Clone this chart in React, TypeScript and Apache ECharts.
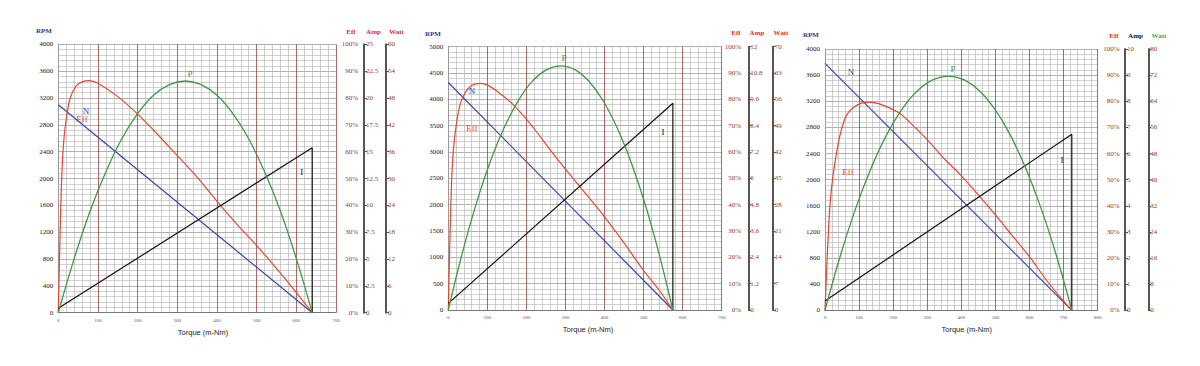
import React, { useEffect, useRef } from "react";
import * as echarts from "echarts";

// ---------- DATA ----------
// Panel 1 (torque m-Nm vs RPM / Eff % / Amp / Watt)
const n1 = [[0, 3100], [640, 0]];
const i1 = [[0, 0.41], [640, 15.37], [640, 0]];
const p1 = [[0, 0], [40, 12.1], [80, 22.7], [120, 31.5], [160, 38.9], [200, 44.5], [240, 48.6], [280, 51.0], [320, 51.8], [360, 51.0], [400, 48.6], [440, 44.5], [480, 38.9], [520, 31.5], [560, 22.7], [600, 12.1], [640, 0]];
const eff1 = [[0, 0], [3, 20], [6, 38], [10, 55], [15, 66], [22, 74], [30, 80], [45, 84.5], [60, 86], [78, 86.5], [100, 85.5], [150, 80.5], [200, 74], [250, 66.5], [300, 58.5], [350, 50.5], [400, 41.5], [450, 33], [500, 25], [550, 16.5], [600, 7.5], [640, 0]];

// Panel 2
const n2 = [[0, 4320], [575, 0]];
const i2 = [[0, 0.3], [575, 9.42], [575, 0]];
const p2 = [[0, 0], [36, 15.2], [72, 28.4], [108, 39.6], [144, 48.7], [180, 55.8], [216, 60.9], [252, 63.9], [288, 64.9], [324, 63.9], [360, 60.8], [396, 55.7], [432, 48.5], [468, 39.3], [504, 28.1], [540, 14.8], [575, 0]];
const eff2 = [[0, 0], [3, 20], [6, 37], [10, 54], [17, 66.5], [30, 78], [45, 83], [60, 85.3], [81, 86.1], [100, 85.5], [130, 82.5], [166, 78], [200, 72.5], [226, 67.7], [260, 61], [300, 53.5], [350, 44.5], [400, 35.4], [450, 25.5], [500, 15], [540, 7.5], [575, 0]];

// Panel 3
const n3 = [[0, 3780], [724, 0]];
const i3 = [[0, 0.36], [724, 6.74], [724, 0]];
const p3 = [[0, 0], [45, 16.7], [90, 31.2], [136, 43.7], [181, 53.8], [226, 61.6], [272, 67.3], [317, 70.6], [362, 71.7], [407, 70.6], [452, 67.3], [498, 61.6], [543, 53.8], [588, 43.7], [634, 31.2], [679, 16.7], [724, 0]];
const eff3 = [[0, 0], [5, 16], [10, 30], [15, 41], [24, 52], [35, 61], [44, 67], [63, 74.6], [93, 78.5], [127, 79.7], [160, 79], [220, 75.3], [260, 70.5], [298, 65.6], [350, 58], [396, 52], [455, 43.4], [500, 36.5], [550, 28.5], [600, 20.5], [650, 11.5], [700, 3.5], [724, 0]];

// axis scales
const xMaxes = [700, 700, 800];
const rpmMaxes = [4000, 5000, 4000];
const rpmSteps = [400, 500, 400];
const ampMaxes = [25, 12, 10];
const ampSteps = [2.5, 1.2, 1];
const wattMaxes = [60, 70, 80];
const wattSteps = [6, 7, 8];

// ---------- LAYOUT / STYLE ----------
const grids = [
  { left: 58.3, top: 44.3, width: 277.7, height: 268.4 },
  { left: 448.3, top: 46.7, width: 273.4, height: 263.3 },
  { left: 825, top: 49, width: 272.7, height: 261.3 },
];
const ampOff = [28, 26.6, 27.3];
const wattOff = [50, 51, 50.6];
const effMargin = [22, 19.5, 22];

const C_N = "#3a44a8";
const C_EFF = "#e8452e";
const C_P = "#3e9a40";
const C_I = "#111111";
const C_RLAB = "#93392c";
const SERIF = '"Liberation Serif", "DejaVu Serif", serif';
const SANS = '"Liberation Sans", Arial, sans-serif';

const headers = [
  { rpm: [44, 31], eff: [351, 32], amp: [373.5, 32], watt: [396.5, 32], ampC: "#e8281e", wattC: "#e8281e" },
  { rpm: [433, 34], eff: [736, 33.3], amp: [757, 33.3], watt: [781, 33.3], ampC: "#e8281e", wattC: "#e8281e" },
  { rpm: [811, 35], eff: [1114, 36], amp: [1135.5, 36], watt: [1159, 36], ampC: "#111111", wattC: "#3aa84a" },
];
const curveLabels = [
  { N: [86, 110.5], Eff: [82, 118.5], P: [190, 74], I: [301.7, 172] },
  { N: [472, 91], Eff: [472, 128], P: [564, 58], I: [663, 132] },
  { N: [851, 72], Eff: [848, 172], P: [953, 69], I: [1062, 160] },
];
const torqueTitle = [[203, 332.3], [588, 329], [966.7, 329.3]];

function buildOption() {
  const series: any[] = [];
  const xAxis: any[] = [];
  const yAxis: any[] = [];
  const graphic: any[] = [];
  const data = [
    { n: n1, i: i1, p: p1, e: eff1 },
    { n: n2, i: i2, p: p2, e: eff2 },
    { n: n3, i: i3, p: p3, e: eff3 },
  ];
  const rightLabel = { color: C_RLAB, fontSize: 7, fontFamily: SERIF };
  const plain = (v: number) => String(Math.round(v * 100) / 100);
  for (let k = 0; k < 3; k++) {
    xAxis.push({
      type: "value",
      gridIndex: k,
      min: 0,
      max: xMaxes[k],
      interval: 100,
      axisLine: { show: true, lineStyle: { color: "#777", width: 1 } },
      axisTick: { show: false },
      axisLabel: { fontSize: 5, color: "#555", fontFamily: SERIF, margin: 5, formatter: plain },
      splitLine: { show: true, lineStyle: { color: "rgba(150,55,55,0.75)", width: 1 } },
      minorTick: { show: false, splitNumber: 5 },
      minorSplitLine: { show: true, lineStyle: { color: "#b9b9b9", width: 0.7 } },
    });
    yAxis.push({
      type: "value",
      gridIndex: k,
      position: "left",
      min: 0,
      max: rpmMaxes[k],
      interval: rpmSteps[k],
      axisLine: { show: true, lineStyle: { color: "#999", width: 1 } },
      axisTick: { show: false },
      axisLabel: { fontSize: 7, color: "#222", fontFamily: SERIF, margin: 5, formatter: plain },
      splitLine: { show: true, lineStyle: { color: "#9c9c9c", width: 0.8 } },
      minorTick: { show: false, splitNumber: 5 },
      minorSplitLine: { show: true, lineStyle: { color: "#bdbdbd", width: 0.7 } },
    });
    yAxis.push({
      type: "value",
      gridIndex: k,
      position: "right",
      offset: 0,
      min: 0,
      max: 100,
      interval: 10,
      axisLine: { show: false },
      axisTick: { show: false },
      splitLine: { show: false },
      axisLabel: { ...rightLabel, formatter: "{value}%", align: "right", margin: effMargin[k] },
    });
    yAxis.push({
      type: "value",
      gridIndex: k,
      position: "right",
      offset: ampOff[k],
      min: 0,
      max: ampMaxes[k],
      interval: ampSteps[k],
      axisLine: { show: true, lineStyle: { color: "#555", width: 2 } },
      axisTick: { show: true, length: 3, lineStyle: { color: "#555", width: 1 } },
      splitLine: { show: false },
      axisLabel: { ...rightLabel, formatter: plain, margin: 2 },
    });
    yAxis.push({
      type: "value",
      gridIndex: k,
      position: "right",
      offset: wattOff[k],
      min: 0,
      max: wattMaxes[k],
      interval: wattSteps[k],
      axisLine: { show: true, lineStyle: { color: "#555", width: 2 } },
      axisTick: { show: true, length: 3, lineStyle: { color: "#555", width: 1 } },
      splitLine: { show: false },
      axisLabel: { ...rightLabel, formatter: plain, margin: 2 },
    });
    const d = data[k];
    const base = { type: "line", xAxisIndex: k, showSymbol: false, symbol: "none", silent: true };
    series.push({ ...base, name: "N", yAxisIndex: 4 * k, data: d.n, lineStyle: { color: C_N, width: 1.2 } });
    series.push({ ...base, name: "Eff", yAxisIndex: 4 * k + 1, data: d.e, smooth: 0.3, lineStyle: { color: C_EFF, width: 1.2 } });
    series.push({ ...base, name: "I", yAxisIndex: 4 * k + 2, data: d.i, lineStyle: { color: C_I, width: 1.2 } });
    series.push({ ...base, name: "P", yAxisIndex: 4 * k + 3, data: d.p, smooth: 0.4, lineStyle: { color: C_P, width: 1.3 } });

    const h = headers[k];
    const hdr = (txt: string, pos: number[], fill: string) => ({
      type: "text",
      x: pos[0],
      y: pos[1],
      silent: true,
      style: { text: txt, fill, fontSize: 7, fontWeight: "bold", fontFamily: SERIF, textAlign: "center", textVerticalAlign: "middle" },
    });
    graphic.push(hdr("RPM", h.rpm, "#2b3a9a"));
    graphic.push(hdr("Eff", h.eff, "#e8281e"));
    graphic.push(hdr("Amp", h.amp, h.ampC));
    graphic.push(hdr("Watt", h.watt, h.wattC));
    const cl = curveLabels[k];
    const lab = (txt: string, pos: number[], fill: string) => ({
      type: "text",
      x: pos[0],
      y: pos[1],
      silent: true,
      z: 100,
      style: { text: txt, fill, fontSize: 9, fontFamily: SERIF, textAlign: "center", textVerticalAlign: "middle" },
    });
    graphic.push(lab("N", cl.N, C_N));
    graphic.push(lab("Eff", cl.Eff, C_EFF));
    graphic.push(lab("P", cl.P, C_P));
    graphic.push(lab("I", cl.I, C_I));
    graphic.push({
      type: "text",
      x: torqueTitle[k][0],
      y: torqueTitle[k][1],
      silent: true,
      style: { text: "Torque (m-Nm)", fill: "#222", fontSize: 7.5, fontFamily: SANS, textAlign: "center", textVerticalAlign: "middle" },
    });
  }
  return {
    animation: false,
    backgroundColor: "#ffffff",
    grid: grids.map((g) => ({ ...g, containLabel: false })),
    xAxis,
    yAxis,
    series,
    graphic,
  };
}

export default function App() {
  const ref = useRef<HTMLDivElement>(null);
  useEffect(() => {
    if (!ref.current) return;
    const chart = echarts.init(ref.current, undefined, { renderer: "svg" });
    chart.setOption(buildOption() as any);
    return () => chart.dispose();
  }, []);
  return (
    <div
      ref={ref}
      style={{ position: "fixed", left: 0, top: 0, width: 1200, height: 366, background: "#fff" }}
    />
  );
}
